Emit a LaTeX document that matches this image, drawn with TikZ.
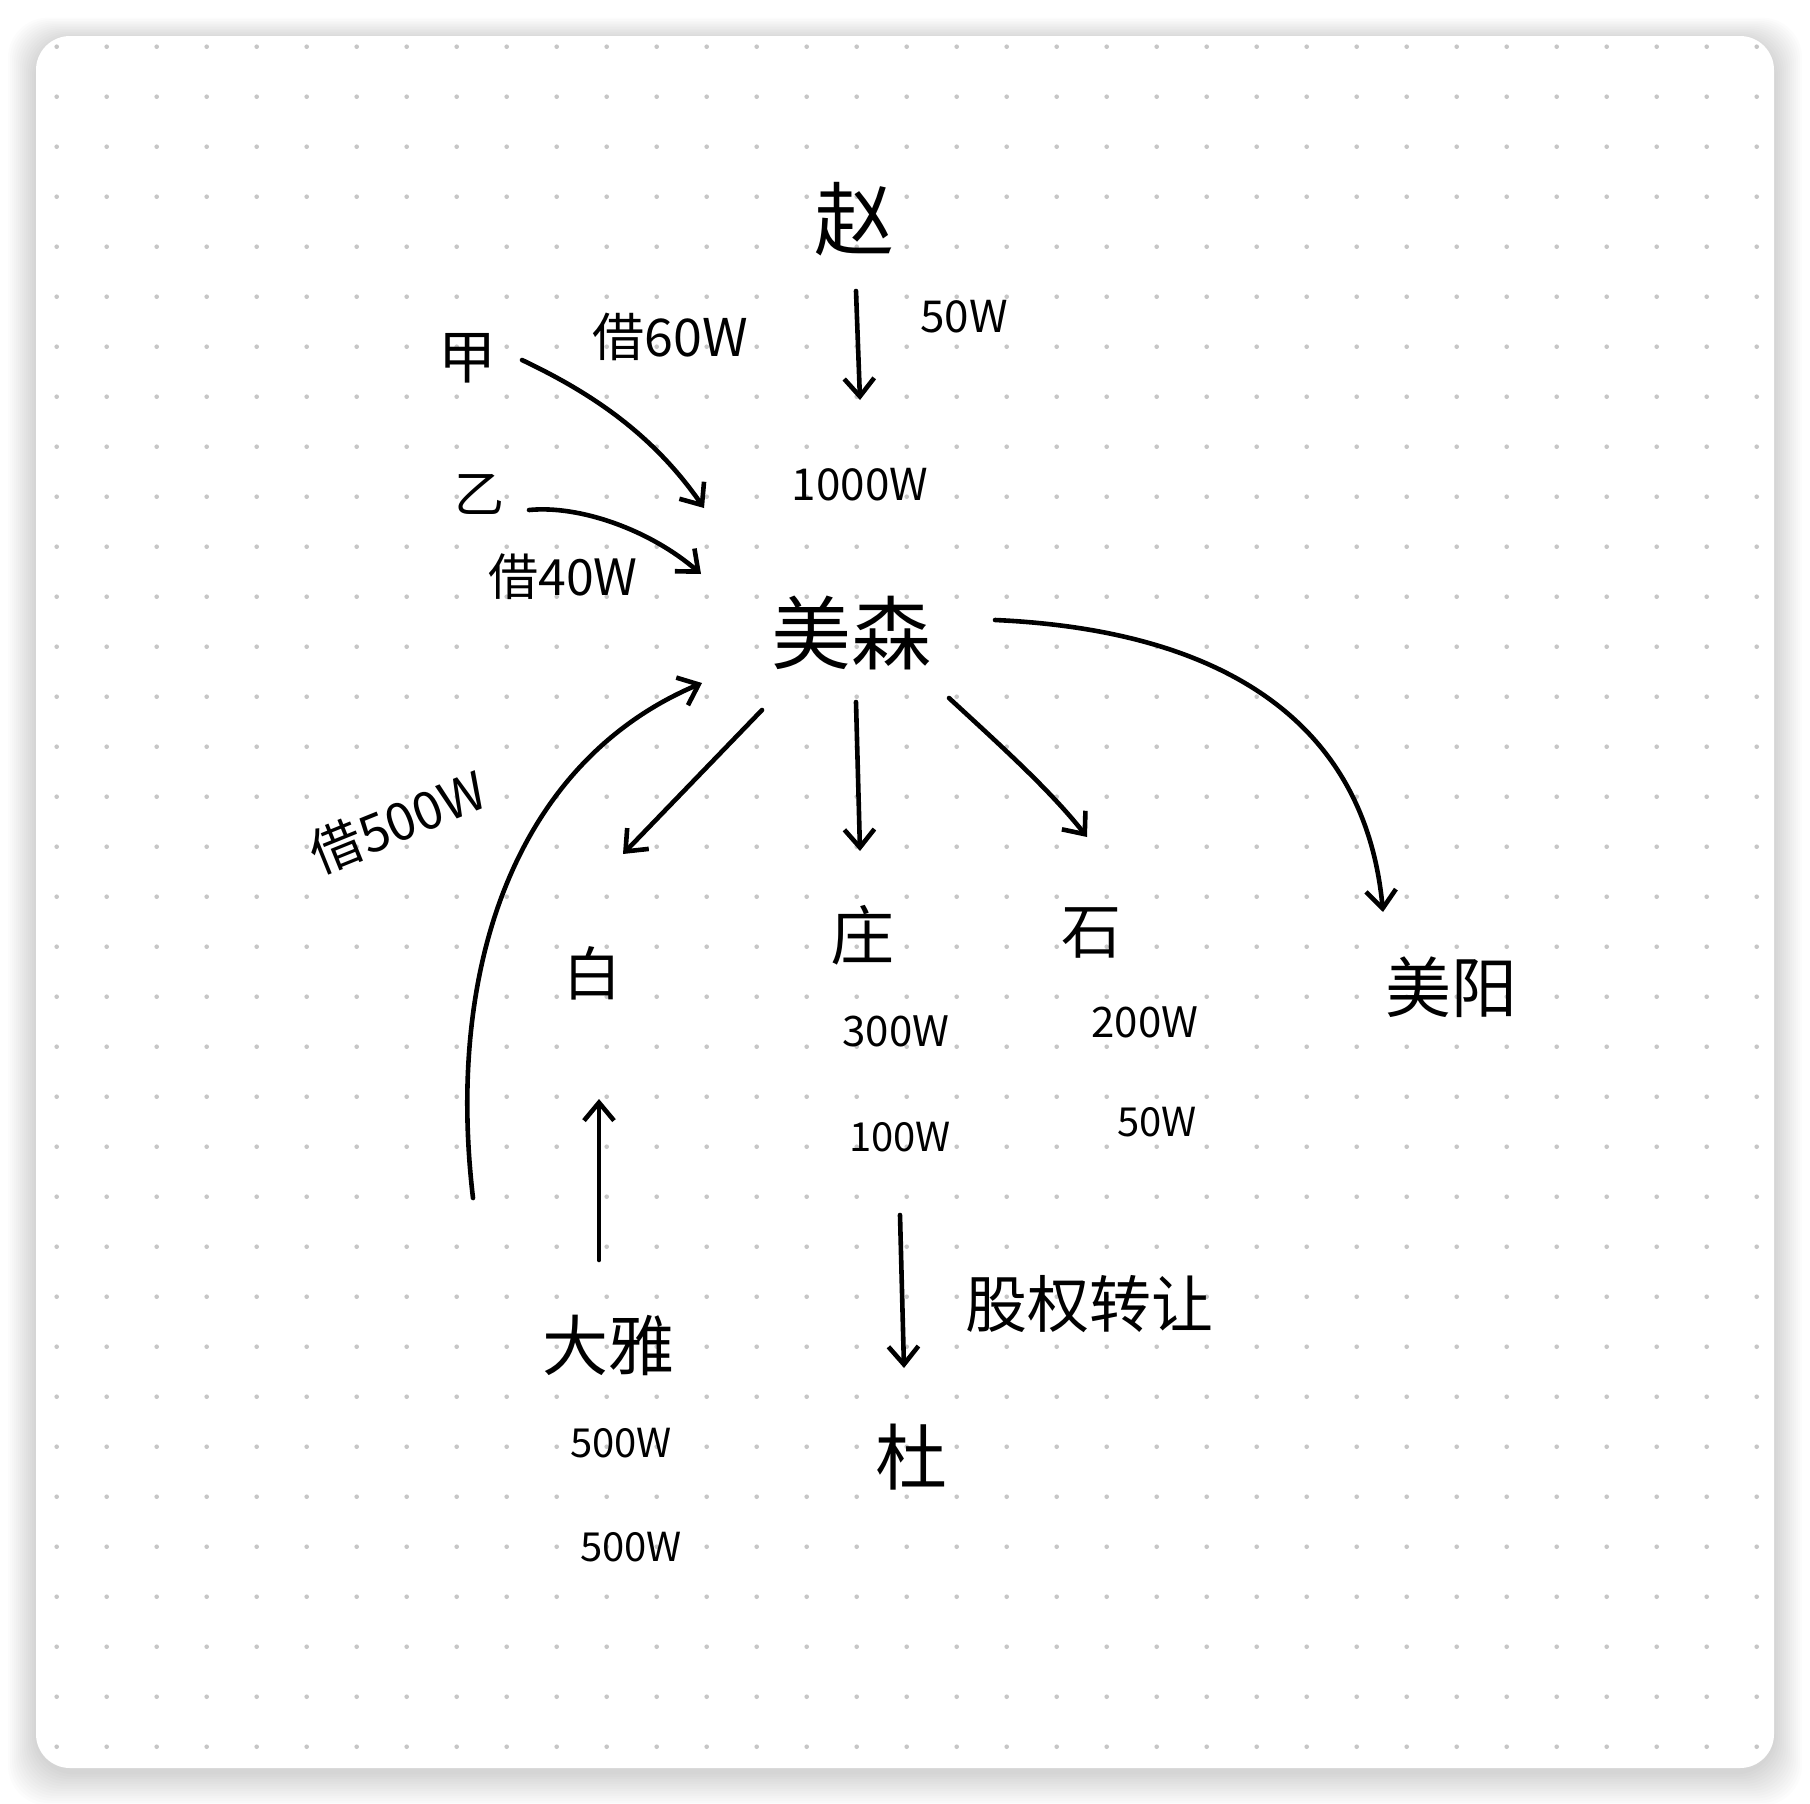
\documentclass[tikz,border=0pt]{standalone}
\usepackage{fontspec}
\setmainfont{Noto Sans CJK SC}
\usetikzlibrary{arrows.meta}
\definecolor{dotc}{HTML}{C6C6C6}
\tikzset{
  lbl/.style={inner sep=0pt, font=\fontsize{#1pt}{#1pt}\selectfont},
  conn/.style={line width=2.3pt, line cap=round, line join=round,
    -{Straight Barb[length=9pt,width=15pt,line width=2.3pt]}},
}
\begin{document}
\begin{tikzpicture}[x=0.5pt,y=-0.5pt]
\useasboundingbox (0,0) rectangle (1810,1804);
% shadow
\foreach \k in {1,...,14}{
  \fill[black,opacity=0.012,rounded corners=20pt]
    (36-2*\k,36-1.6*\k+4) rectangle (1774+2*\k,1768+2.4*\k+4);
}
% card
\fill[white,rounded corners=17pt] (36,36) rectangle (1774,1768);
% dot grid
\foreach \i in {0,...,34}{
  \foreach \j in {0,...,34}{
    \fill[dotc] (56.7+50*\i,46.7+50*\j) circle (2.3);
  }
}
% nodes
\node[lbl=40] (zhao) at (854,219) {赵};
\node[lbl=22] (w50) at (964,317) {50W};
\node[lbl=29] (jia) at (467,358) {甲};
\node[lbl=26] (jie60) at (670,337) {借60W};
\node[lbl=25] (yi) at (479,494) {乙};
\node[lbl=22] (w1000) at (860,485) {1000W};
\node[lbl=25] (jie40) at (563,577) {借40W};
\node[lbl=40] (meisen) at (851,633) {美森};
\node[lbl=33] (meiyang) at (1451,987) {美阳};
\node[lbl=26,rotate=22] (jie500) at (398,822) {借500W};
\node[lbl=29] (bai) at (592,973) {白};
\node[lbl=32] (zhuang) at (862,935) {庄};
\node[lbl=30] (shi) at (1091,933) {石};
\node[lbl=21] (w300) at (896,1031) {300W};
\node[lbl=21] (w200) at (1145,1022) {200W};
\node[lbl=20] (w100) at (900,1137) {100W};
\node[lbl=20] (w50b) at (1157,1122) {50W};
\node[lbl=33] (daya) at (608,1345) {大雅};
\node[lbl=20] (w500a) at (621,1443) {500W};
\node[lbl=20] (w500b) at (631,1547) {500W};
\node[lbl=31] (guquan) at (1089,1304) {股权转让};
\node[lbl=36] (du) at (911,1457) {杜};
% connector end points
\coordinate (zhaoOut) at (856,291);
\coordinate (capIn) at (860,400);
\coordinate (jiaOut) at (522,360);
\coordinate (msInA) at (704,508);
\coordinate (yiOut) at (529,510);
\coordinate (msInB) at (701,574);
\coordinate (msOutMY) at (995,620);
\coordinate (myIn) at (1383,912);
\coordinate (msOutB) at (762,710);
\coordinate (baiIn) at (623,854);
\coordinate (msOutZ) at (856,702);
\coordinate (zhIn) at (860,851);
\coordinate (msOutS) at (949,698);
\coordinate (shiIn) at (1087,837);
\coordinate (dyOutL) at (473,1198);
\coordinate (msInC) at (702,683);
\coordinate (dyOut) at (599,1260);
\coordinate (baiBot) at (599,1099);
\coordinate (zhOut) at (900,1215);
\coordinate (duIn) at (904,1368);
% connectors
\draw[conn] (zhaoOut) -- (capIn);
\draw[conn] (jiaOut) .. controls (585,390) and (650,430) .. (msInA);
\draw[conn] (yiOut) .. controls (580,505) and (650,530) .. (msInB);
\draw[conn] (msOutMY) .. controls (1220,630) and (1365,720) .. (myIn);
\draw[conn] (msOutB) -- (baiIn);
\draw[conn] (msOutZ) -- (zhIn);
\draw[conn] (msOutS) .. controls (1000,745) and (1050,790) .. (shiIn);
\draw[conn] (dyOutL) .. controls (445,960) and (520,760) .. (msInC);
\draw[conn] (dyOut) -- (baiBot);
\draw[conn] (zhOut) -- (duIn);
\end{tikzpicture}
\end{document}
